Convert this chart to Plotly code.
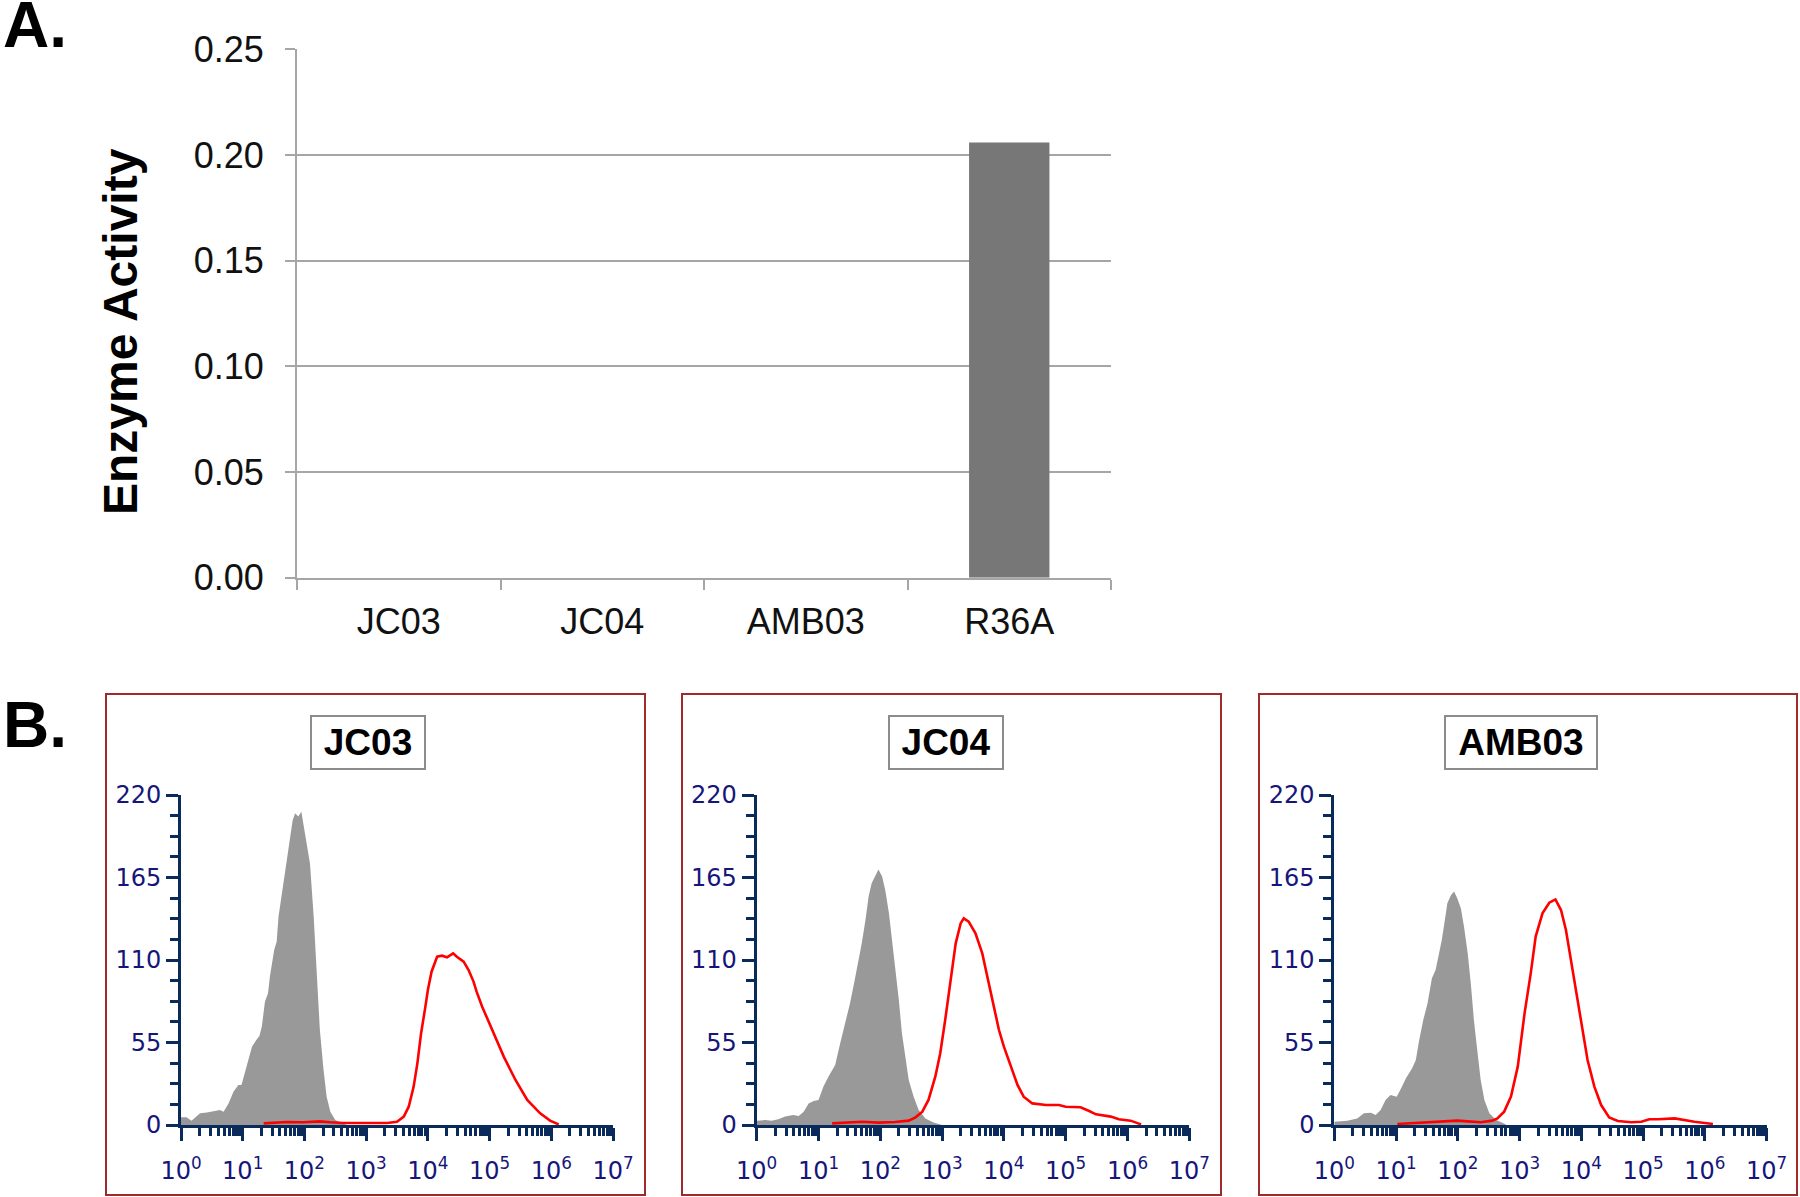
import numpy as np
import plotly.graph_objects as go

# ---------------- Panel A data ----------------
categories = ["JC03", "JC04", "AMB03", "R36A"]
activity = [0.0, 0.0, 0.0, 0.206]

# ---------------- Panel B data (x as log10 exponent, y as count) ----------------
hist_names = ["JC03", "JC04", "AMB03"]

JC03_grey_exp = [0.0, 0.09, 0.17, 0.25, 0.31, 0.42, 0.58, 0.63, 0.69, 0.77, 0.85, 0.93, 0.98, 1.06,
                 1.15, 1.22, 1.27, 1.31, 1.36, 1.41, 1.44, 1.51, 1.55, 1.58, 1.63, 1.69, 1.72, 1.77,
                 1.81, 1.85, 1.90, 1.95, 1.98, 2.04, 2.09, 2.15, 2.20, 2.25, 2.31, 2.36, 2.42, 2.50,
                 2.61, 2.69]
JC03_grey_cnt = [5.1, 5.1, 2.9, 5.6, 7.8, 8.4, 9.6, 10.0, 8.9, 14.4, 22.2, 26.7, 26.7, 38.9,
                 52.2, 56.7, 59.3, 65.6, 82.2, 87.8, 98.9, 116.7, 122.2, 138.9, 153.3, 170.0, 180.0, 193.3,
                 203.3, 207.8, 205.6, 208.9, 201.1, 186.7, 174.4, 138.9, 101.1, 63.3, 36.7, 18.9, 8.9, 3.3,
                 1.1, 0.0]
JC03_red_exp = [1.34, 1.71, 1.98, 2.25, 2.42, 2.63, 3.06, 3.34, 3.50, 3.61, 3.69, 3.77, 3.83, 3.89,
                3.96, 4.00, 4.06, 4.15, 4.23, 4.31, 4.41, 4.47, 4.58, 4.66, 4.74, 4.79, 4.88, 5.04,
                5.23, 5.42, 5.61, 5.82, 5.98, 6.12]
JC03_red_cnt = [1.1, 2.0, 1.8, 2.4, 1.8, 1.3, 1.3, 1.3, 2.2, 5.6, 12.2, 25.6, 41.1, 61.1,
                78.9, 90.0, 102.2, 112.2, 112.9, 111.8, 114.4, 112.2, 108.9, 103.3, 95.6, 88.9, 78.9, 63.3,
                45.6, 30.0, 16.7, 7.8, 2.9, 0.4]

JC04_grey_exp = [0.0, 0.14, 0.24, 0.35, 0.46, 0.59, 0.68, 0.76, 0.84, 0.92, 1.00, 1.08, 1.16, 1.27,
                 1.35, 1.43, 1.51, 1.57, 1.65, 1.70, 1.76, 1.81, 1.86, 1.92, 1.97, 2.03, 2.08, 2.14,
                 2.19, 2.24, 2.30, 2.35, 2.41, 2.46, 2.54, 2.62, 2.73, 2.86, 3.00]
JC04_grey_cnt = [2.9, 3.3, 2.9, 3.8, 5.6, 6.7, 6.0, 8.9, 14.4, 16.0, 16.7, 25.6, 32.2, 40.0,
                 54.4, 67.8, 81.1, 93.3, 110.0, 121.1, 136.7, 152.2, 161.1, 166.7, 170.4, 165.6, 156.7, 141.1,
                 123.3, 103.3, 83.3, 61.1, 43.3, 30.0, 18.9, 10.0, 4.4, 1.6, 0.0]
JC04_red_exp = [1.22, 1.43, 1.70, 1.97, 2.24, 2.46, 2.57, 2.68, 2.78, 2.89, 2.97, 3.05, 3.14, 3.22,
                3.30, 3.35, 3.43, 3.54, 3.65, 3.76, 3.84, 3.92, 4.00, 4.11, 4.22, 4.32, 4.46, 4.68,
                4.89, 5.00, 5.24, 5.38, 5.49, 5.73, 5.86, 6.05, 6.22]
JC04_red_cnt = [1.1, 1.8, 2.2, 1.6, 2.0, 2.9, 5.1, 8.9, 16.7, 32.2, 47.8, 70.0, 96.7, 121.1,
                134.4, 137.8, 135.6, 127.8, 114.4, 94.4, 78.9, 63.3, 52.2, 38.9, 26.7, 18.9, 14.4, 13.3,
                13.3, 12.2, 11.8, 9.3, 7.1, 5.6, 3.8, 2.9, 0.4]

AMB03_grey_exp = [0.0, 0.21, 0.37, 0.48, 0.59, 0.67, 0.75, 0.83, 0.91, 1.01, 1.08, 1.16, 1.26, 1.32,
                  1.37, 1.44, 1.51, 1.58, 1.64, 1.70, 1.74, 1.79, 1.83, 1.89, 1.94, 1.99, 2.05, 2.10,
                  2.16, 2.21, 2.26, 2.32, 2.37, 2.43, 2.51, 2.62, 2.78]
AMB03_grey_cnt = [2.2, 2.9, 4.4, 7.8, 8.2, 6.7, 10.0, 16.7, 20.0, 18.9, 24.4, 31.1, 37.8, 43.3,
                  55.6, 70.0, 81.1, 97.8, 103.3, 114.4, 123.3, 136.7, 147.8, 153.3, 155.6, 151.1, 144.4, 132.2,
                  114.4, 94.4, 70.0, 47.8, 30.0, 16.7, 7.8, 3.3, 0.4]
AMB03_red_exp = [1.02, 1.45, 1.72, 1.99, 2.16, 2.37, 2.56, 2.64, 2.75, 2.86, 2.97, 3.08, 3.18, 3.26,
                 3.37, 3.48, 3.58, 3.67, 3.75, 3.83, 3.91, 3.99, 4.10, 4.21, 4.32, 4.45, 4.59, 4.81,
                 4.97, 5.10, 5.24, 5.51, 5.67, 5.83, 6.13]
AMB03_red_cnt = [0.7, 1.8, 2.2, 2.9, 2.4, 1.8, 2.9, 4.4, 8.9, 18.9, 38.9, 74.4, 101.1, 125.6,
                 141.1, 148.2, 150.4, 143.3, 130.0, 110.0, 87.8, 70.0, 43.3, 25.6, 13.3, 5.1, 2.7, 1.8,
                 2.2, 3.8, 3.8, 4.4, 3.3, 2.2, 0.7]

count_ticks = [0, 55, 110, 165, 220]
decades = [0, 1, 2, 3, 4, 5, 6, 7]

# ---------------- styling ----------------
W, H = 1800, 1197
GRID = "#a6a6a6"
NAVY_AX = "#0b2a5c"
NAVY_TXT = "#16167a"
RED = "#ff0000"
GREY_FILL = "#999999"
BAR = "#777777"
FRAME = "#9e2a2b"
SANS = "Liberation Sans, Arial, sans-serif"
VERD = "DejaVu Sans, Verdana, sans-serif"


def px_x(p):
    return p / W


def px_y(p):
    return 1 - p / H


fig = go.Figure()

fig.add_trace(go.Bar(x=categories, y=activity, marker=dict(color=BAR, line=dict(width=0)),
                     xaxis="x", yaxis="y", showlegend=False))

panels = [
    (JC03_grey_exp, JC03_grey_cnt, JC03_red_exp, JC03_red_cnt),
    (JC04_grey_exp, JC04_grey_cnt, JC04_red_exp, JC04_red_cnt),
    (AMB03_grey_exp, AMB03_grey_cnt, AMB03_red_exp, AMB03_red_cnt),
]
for i, (ge, gc, re_, rc) in enumerate(panels):
    k = i + 2
    fig.add_trace(go.Scatter(x=np.power(10.0, ge), y=gc, mode="lines", fill="tozeroy",
                             fillcolor=GREY_FILL, line=dict(width=0, color=GREY_FILL),
                             xaxis=f"x{k}", yaxis=f"y{k}", showlegend=False))
    fig.add_trace(go.Scatter(x=np.power(10.0, re_), y=rc, mode="lines",
                             line=dict(width=2.6, color=RED),
                             xaxis=f"x{k}", yaxis=f"y{k}", showlegend=False))

layout = dict(
    width=W, height=H,
    margin=dict(l=0, r=0, t=0, b=0),
    paper_bgcolor="white", plot_bgcolor="white",
    template="none",
    bargap=0.605,
    showlegend=False,
)

# Panel A axes
layout["xaxis"] = dict(
    domain=[px_x(297), px_x(1111)], anchor="y", type="category",
    showline=True, linecolor=GRID, linewidth=2,
    ticks="outside", tickson="boundaries", ticklen=10, tickwidth=2, tickcolor=GRID,
    tickfont=dict(family=SANS, size=36, color="#111111"), ticklabelstandoff=11,
    showgrid=False, zeroline=False,
)
layout["yaxis"] = dict(
    domain=[px_y(577.7), px_y(49.4)], anchor="x",
    range=[0, 0.25], tickmode="linear", tick0=0, dtick=0.05, tickformat=".2f",
    showgrid=True, gridcolor=GRID, gridwidth=2,
    showline=True, linecolor=GRID, linewidth=2,
    ticks="outside", ticklen=10, tickwidth=2, tickcolor=GRID,
    tickfont=dict(family=SANS, size=36, color="#111111"), ticklabelstandoff=14,
    zeroline=False,
)

x_domains = [(181, 613), (756.7, 1189.3), (1334.3, 1766.7)]
minor_x = [m * 10.0 ** d for d in decades[:-1] for m in range(2, 10)]
minor_y = [13.75 * j for j in range(1, 16) if j % 4 != 0]
for i, (xa, xb) in enumerate(x_domains):
    k = i + 2
    layout[f"xaxis{k}"] = dict(
        domain=[px_x(xa), px_x(xb)], anchor=f"y{k}", type="log", range=[0, 7],
        showline=True, linecolor=NAVY_AX, linewidth=3,
        tickmode="array", tickvals=[10.0 ** d for d in decades],
        ticktext=[f"10<sup>{d}</sup>" for d in decades],
        ticks="outside", ticklen=13, tickwidth=3, tickcolor=NAVY_AX,
        tickfont=dict(family=VERD, size=24, color=NAVY_TXT), ticklabelstandoff=9,
        minor=dict(tickmode="array", tickvals=minor_x, ticks="outside", ticklen=8,
                   tickwidth=2.5, tickcolor=NAVY_AX, showgrid=False),
        showgrid=False, zeroline=False,
    )
    layout[f"yaxis{k}"] = dict(
        domain=[px_y(1125), px_y(795)], anchor=f"x{k}", range=[0, 220],
        showline=True, linecolor=NAVY_AX, linewidth=3,
        tickmode="array", tickvals=count_ticks, ticktext=[str(v) for v in count_ticks],
        ticks="outside", ticklen=12, tickwidth=3, tickcolor=NAVY_AX,
        tickfont=dict(family=VERD, size=24, color=NAVY_TXT), ticklabelstandoff=0,
        minor=dict(tickmode="array", tickvals=minor_y, ticks="outside", ticklen=8,
                   tickwidth=2.5, tickcolor=NAVY_AX, showgrid=False),
        showgrid=False, zeroline=False,
    )

# frames around the flow panels
frames = [(106, 645), (682, 1221), (1259, 1797)]
shapes = []
for (a, b) in frames:
    shapes.append(dict(type="rect", xref="paper", yref="paper",
                       x0=px_x(a), x1=px_x(b), y0=px_y(1195), y1=px_y(694),
                       line=dict(color=FRAME, width=2), fillcolor="rgba(0,0,0,0)", layer="below"))
layout["shapes"] = shapes

annotations = [
    dict(text="<b>A.</b>", x=px_x(1), y=px_y(25), xref="paper", yref="paper", xanchor="left",
         yanchor="middle", showarrow=False, font=dict(family=SANS, size=64, color="black")),
    dict(text="<b>B.</b>", x=px_x(1), y=px_y(724.5), xref="paper", yref="paper", xanchor="left",
         yanchor="middle", showarrow=False, font=dict(family=SANS, size=64, color="black")),
    dict(text="<b>Enzyme Activity</b>", x=px_x(120), y=px_y(332), xref="paper", yref="paper",
         xanchor="center", yanchor="middle", textangle=-90, showarrow=False,
         font=dict(family=SANS, size=48, color="black")),
]
label_centers = [368.3, 946.0, 1521.0]
label_widths = [112, 112, 150]
for name, cx, w in zip(hist_names, label_centers, label_widths):
    annotations.append(dict(
        text=f"<b>{name}</b>", x=px_x(cx), y=px_y(742.5), xref="paper", yref="paper",
        xanchor="center", yanchor="middle", showarrow=False,
        width=w, height=51, align="center", valign="middle",
        bordercolor="#8c8c8c", borderwidth=2, borderpad=0, bgcolor="white",
        font=dict(family=SANS, size=37, color="black")))
layout["annotations"] = annotations

fig.update_layout(**layout)
fig.write_html("out.html", config={"displayModeBar": False},
               post_script="document.body.style.margin='0px';document.body.style.padding='0px';")
